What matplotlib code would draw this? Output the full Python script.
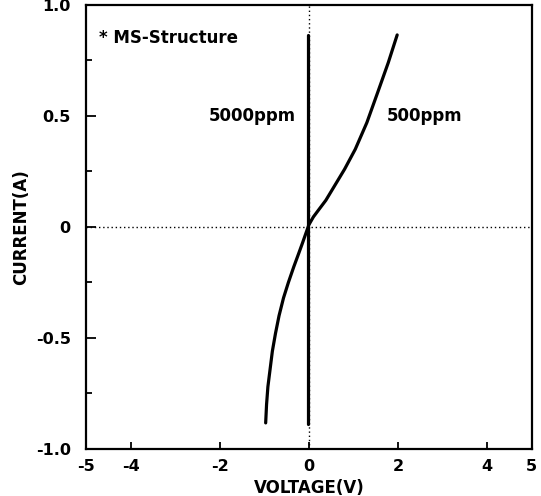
import numpy as np
import matplotlib.pyplot as plt
from matplotlib.ticker import FixedLocator

# I-V data
v_500 = [-0.97, -0.95, -0.92, -0.87, -0.82, -0.75, -0.67, -0.57, -0.46, -0.34,
         -0.23, -0.145, -0.07, 0.0, 0.10, 0.23, 0.38, 0.56, 0.80, 1.04, 1.30,
         1.55, 1.78, 1.98]
i_500 = [-0.883, -0.80, -0.72, -0.64, -0.56, -0.48, -0.40, -0.32, -0.25, -0.18,
         -0.12, -0.073, -0.03, 0.01, 0.045, 0.08, 0.12, 0.18, 0.26, 0.35, 0.47,
         0.61, 0.74, 0.865]
v_5000 = [-0.02, -0.02]
i_5000 = [-0.89, 0.865]

xticks = [-5, -4, -2, 0, 2, 4, 5]
yticks = [-1.0, -0.5, 0, 0.5, 1.0]
ytick_labels = ["-1.0", "-0.5", "0", "0.5", "1.0"]
yminor = [-0.75, -0.25, 0.25, 0.75]

plt.rcParams['font.family'] = ['DejaVu Sans']
plt.rcParams['font.weight'] = 'bold'

fig = plt.figure(figsize=(5.41, 4.96), dpi=100)
ax = fig.add_axes([0.159, 0.095, 0.824, 0.895])

# dotted zero lines
ax.axhline(0, color='black', lw=1.0, ls=(0, (1, 2)))
ax.axvline(0, color='black', lw=1.0, ls=(0, (1, 2)))

ax.plot(v_500, i_500, color='black', lw=2.3, solid_capstyle='round',
        solid_joinstyle='round')
ax.plot(v_5000, i_5000, color='black', lw=2.3, solid_capstyle='round')

ax.set_xlim(-4.98, 4.91)
ax.set_ylim(-1.0, 1.0)

ax.set_xticks(xticks)
ax.set_xticklabels([str(t) for t in xticks])
ax.set_yticks(yticks)
ax.set_yticklabels(ytick_labels)
ax.yaxis.set_minor_locator(FixedLocator(yminor))

ax.tick_params(axis='both', which='both', direction='in', labelsize=11.5,
               top=False, right=False, width=1.3)
ax.tick_params(axis='y', which='major', length=7, pad=11)
ax.tick_params(axis='y', which='minor', length=4)
ax.tick_params(axis='x', which='major', length=5, pad=7)
for lab in ax.get_xticklabels() + ax.get_yticklabels():
    lab.set_fontweight('bold')

for s in ax.spines.values():
    s.set_linewidth(1.6)

ax.set_xlabel("VOLTAGE(V)", fontsize=12, fontweight='bold', labelpad=4)
ax.set_ylabel("CURRENT(A)", fontsize=12, fontweight='bold', labelpad=4)

ax.text(-4.71, 0.85, "* MS-Structure", fontsize=12, fontweight='bold',
        ha='left', va='center')
ax.text(-1.28, 0.5, "5000ppm", fontsize=12, fontweight='bold',
        ha='center', va='center')
ax.text(2.6, 0.5, "500ppm", fontsize=12, fontweight='bold',
        ha='center', va='center')

fig.savefig("out.png", dpi=100)
